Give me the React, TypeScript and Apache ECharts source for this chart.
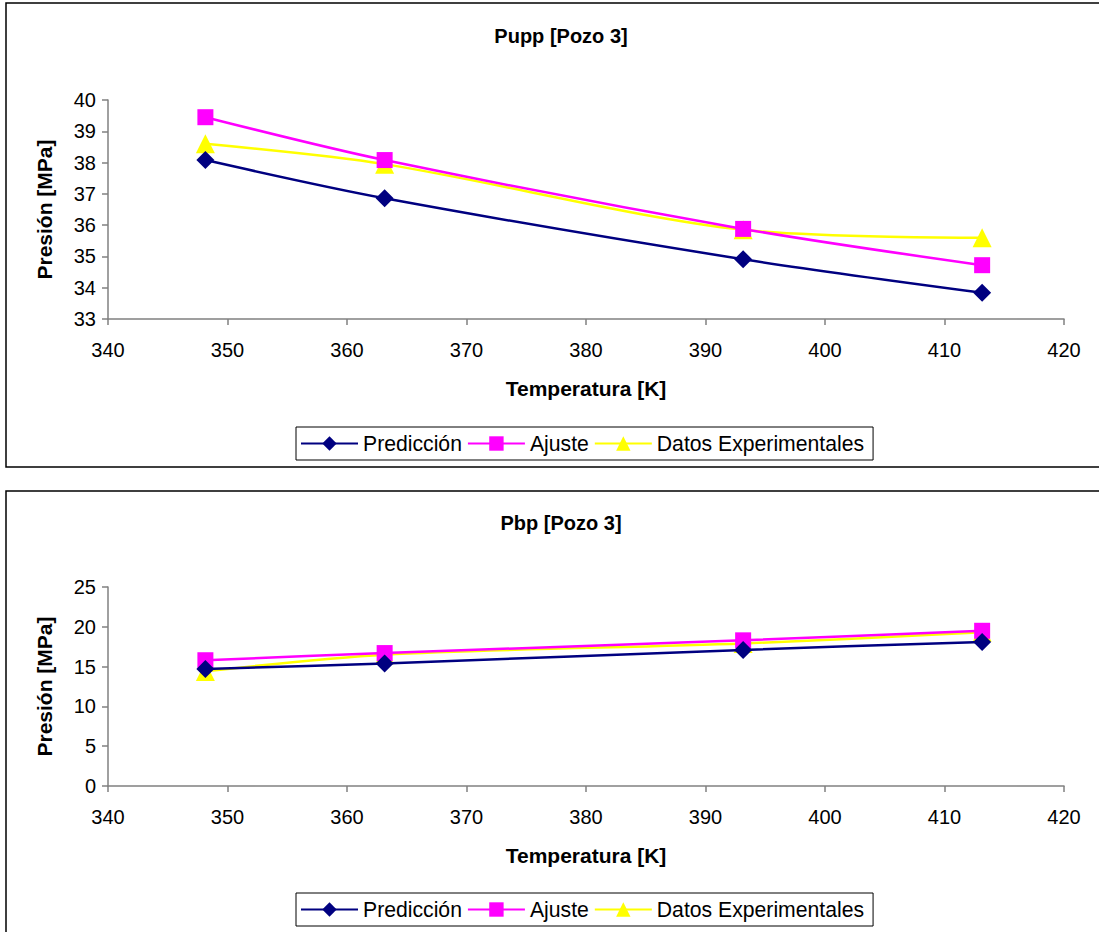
import React, { useEffect, useRef } from "react";
import * as echarts from "echarts";

// Temperatures (K) shared by both panels
const temperatures = [348.15, 363.15, 393.15, 413.15];

// Pupp [Pozo 3] — pressures in MPa
const puppPrediccion = [38.08, 36.86, 34.91, 33.84];
const puppAjuste = [39.45, 38.08, 35.88, 34.72];
const puppExperimental = [38.6, 37.95, 35.85, 35.6];

// Pbp [Pozo 3] — pressures in MPa
const pbpPrediccion = [14.7, 15.4, 17.1, 18.1];
const pbpAjuste = [15.8, 16.7, 18.3, 19.5];
const pbpExperimental = [14.4, 16.5, 17.9, 19.3];

const seriesNames = ["Predicción", "Ajuste", "Datos Experimentales"];
const seriesColors = ["#000080", "#FF00FF", "#FFFF00"];
const seriesSymbols = ["diamond", "rect", "triangle"];
const seriesSymbolSizes = [18, 16, 19];

const FONT = "Liberation Sans, Arial, sans-serif";

export default function App() {
  const ref = useRef<HTMLDivElement>(null);

  useEffect(() => {
    if (!ref.current) return;
    const chart = echarts.init(ref.current, undefined, { renderer: "svg" });

    const pair = (vals: number[]) => temperatures.map((t, i) => [t, vals[i]]);

    const makeSeries = (grid: number, sets: number[][]) =>
      sets.map((vals, i) => ({
        name: seriesNames[i],
        type: "line",
        xAxisIndex: grid,
        yAxisIndex: grid,
        data: pair(vals),
        smooth: 0.3,
        symbol: seriesSymbols[i],
        symbolSize: seriesSymbolSizes[i],
        lineStyle: { color: seriesColors[i], width: 2.5 },
        itemStyle: { color: seriesColors[i] },
        z: 3 - i,
      }));

    const xAxis = (grid: number) => ({
      type: "value",
      gridIndex: grid,
      min: 340,
      max: 420,
      interval: 10,
      name: "Temperatura [K]",
      nameLocation: "middle",
      nameGap: 59,
      nameTextStyle: { fontFamily: FONT, fontSize: 21, fontWeight: "bold", color: "#000" },
      axisLine: { show: true, lineStyle: { color: "#808080", width: 1.5 } },
      axisTick: { show: true, length: 6, lineStyle: { color: "#808080", width: 1.5 } },
      axisLabel: { fontFamily: FONT, fontSize: 20, color: "#000", margin: 21 },
      splitLine: { show: false },
    });

    const yAxis = (grid: number, min: number, max: number, interval: number) => ({
      type: "value",
      gridIndex: grid,
      min,
      max,
      interval,
      name: "Presión [MPa]",
      nameLocation: "middle",
      nameGap: 53,
      nameRotate: 90,
      nameTextStyle: { fontFamily: FONT, fontSize: 21, fontWeight: "bold", color: "#000" },
      axisLine: { show: true, lineStyle: { color: "#808080", width: 1.5 } },
      axisTick: { show: true, length: 6, lineStyle: { color: "#808080", width: 1.5 } },
      axisLabel: { fontFamily: FONT, fontSize: 20, color: "#000", margin: 12 },
      splitLine: { show: false },
    });

    const legend = (top: number) => ({
      top,
      left: 296,
      orient: "horizontal",
      data: seriesNames,
      itemWidth: 57,
      itemHeight: 18,
      itemGap: 5,
      padding: [6, 9, 6, 4],
      borderColor: "#000",
      borderWidth: 1,
      textStyle: { fontFamily: FONT, fontSize: 21.2, color: "#000" },
    });

    const title = (text: string, top: number) => ({
      text,
      left: 556,
      top,
      textAlign: "center",
      textStyle: { fontFamily: FONT, fontSize: 20, fontWeight: "bold", color: "#000" },
    });

    chart.setOption({
      animation: false,
      backgroundColor: "#fff",
      title: [title("Pupp [Pozo 3]", 21), title("Pbp [Pozo 3]", 508)],
      legend: [legend(427), legend(893)],
      grid: [
        { left: 108, right: 35, top: 100, height: 219 },
        { left: 108, right: 35, top: 587, height: 199 },
      ],
      xAxis: [xAxis(0), xAxis(1)],
      yAxis: [yAxis(0, 33, 40, 1), yAxis(1, 0, 25, 5)],
      series: [
        ...makeSeries(0, [puppPrediccion, puppAjuste, puppExperimental]),
        ...makeSeries(1, [pbpPrediccion, pbpAjuste, pbpExperimental]),
      ],
      graphic: [
        {
          type: "rect",
          shape: { x: 6, y: 3, width: 1100, height: 464 },
          style: { fill: "none", stroke: "#000", lineWidth: 1.5 },
          z: -1,
          silent: true,
        },
        {
          type: "rect",
          shape: { x: 6, y: 491, width: 1100, height: 460 },
          style: { fill: "none", stroke: "#000", lineWidth: 1.5 },
          z: -1,
          silent: true,
        },
      ],
    });

    return () => chart.dispose();
  }, []);

  return (
    <div
      ref={ref}
      style={{ position: "absolute", left: 0, top: 0, width: 1099, height: 932 }}
    />
  );
}
